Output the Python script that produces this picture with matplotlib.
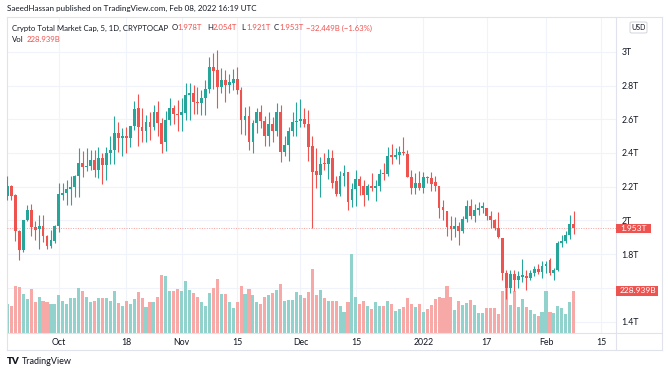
import numpy as np
import matplotlib
matplotlib.use("Agg")
import matplotlib.pyplot as plt
import matplotlib.dates as mdates
import matplotlib.transforms as mtransforms
from matplotlib.lines import Line2D
from matplotlib.patches import Rectangle, FancyBboxPatch

plt.rcParams['font.family'] = ['Lato', 'DejaVu Sans']

# daily candles, Crypto Total Market Cap (trillions USD), volume in billions
dates = np.arange(np.datetime64('2021-09-18'), np.datetime64('2022-02-09'))

opens = [2.147, 2.206, 2.153, 1.940, 1.828, 2.001, 2.064, 1.962, 1.950, 1.969,
         1.910, 1.847, 1.881, 1.969, 2.153, 2.163, 2.188, 2.196, 2.265, 2.340,
         2.316, 2.320, 2.360, 2.300, 2.369, 2.330, 2.399, 2.419, 2.517, 2.488,
         2.498, 2.488, 2.561, 2.665, 2.557, 2.533, 2.586, 2.553, 2.643, 2.576,
         2.468, 2.596, 2.665, 2.632, 2.628, 2.639, 2.744, 2.754, 2.702, 2.695,
         2.724, 2.777, 2.907, 2.892, 2.793, 2.833, 2.805, 2.817, 2.836, 2.773,
         2.596, 2.620, 2.468, 2.576, 2.643, 2.592, 2.498, 2.572, 2.533, 2.643,
         2.405, 2.446, 2.533, 2.586, 2.592, 2.600, 2.572, 2.442, 2.291, 2.271,
         2.336, 2.332, 2.371, 2.232, 2.159, 2.261, 2.285, 2.119, 2.186, 2.245,
         2.202, 2.151, 2.206, 2.190, 2.202, 2.281, 2.273, 2.387, 2.375, 2.387,
         2.403, 2.395, 2.257, 2.194, 2.222, 2.190, 2.257, 2.249, 2.226, 2.202,
         2.080, 2.054, 1.969, 1.950, 1.969, 1.936, 2.009, 2.088, 2.025, 2.060,
         2.072, 2.072, 2.025, 2.005, 1.956, 1.897, 1.690, 1.601, 1.680, 1.650,
         1.668, 1.670, 1.660, 1.690, 1.713, 1.696, 1.733, 1.765, 1.690, 1.709,
         1.867, 1.881, 1.916, 1.978]

highs = [2.261, 2.210, 2.155, 1.942, 2.003, 2.094, 2.100, 1.995, 2.034, 2.034,
         1.912, 1.946, 1.971, 2.222, 2.222, 2.241, 2.261, 2.271, 2.429, 2.409,
         2.429, 2.419, 2.419, 2.438, 2.399, 2.438, 2.498, 2.620, 2.586, 2.547,
         2.553, 2.561, 2.708, 2.750, 2.665, 2.626, 2.645, 2.685, 2.708, 2.606,
         2.651, 2.724, 2.685, 2.714, 2.724, 2.813, 2.813, 2.803, 2.793, 2.773,
         2.833, 2.970, 2.990, 3.010, 2.901, 2.892, 2.868, 2.896, 2.911, 2.793,
         2.675, 2.679, 2.596, 2.665, 2.685, 2.620, 2.645, 2.612, 2.699, 2.685,
         2.498, 2.553, 2.645, 2.704, 2.718, 2.665, 2.655, 2.501, 2.429, 2.379,
         2.399, 2.423, 2.419, 2.261, 2.291, 2.330, 2.287, 2.222, 2.300, 2.265,
         2.241, 2.218, 2.281, 2.241, 2.304, 2.340, 2.434, 2.454, 2.429, 2.442,
         2.494, 2.415, 2.300, 2.281, 2.291, 2.285, 2.261, 2.285, 2.261, 2.204,
         2.123, 2.056, 2.029, 2.021, 1.989, 2.029, 2.119, 2.127, 2.100, 2.111,
         2.107, 2.074, 2.054, 2.009, 2.048, 1.899, 1.709, 1.705, 1.709, 1.700,
         1.772, 1.709, 1.709, 1.729, 1.745, 1.759, 1.759, 1.778, 1.719, 1.877,
         1.916, 1.936, 2.034, 2.054]

lows = [2.123, 2.119, 1.881, 1.763, 1.812, 1.995, 1.906, 1.887, 1.832, 1.871,
        1.832, 1.837, 1.867, 1.930, 2.123, 2.094, 2.094, 2.139, 2.139, 2.257,
        2.291, 2.297, 2.255, 2.251, 2.218, 2.241, 2.336, 2.336, 2.403, 2.383,
        2.399, 2.434, 2.537, 2.442, 2.468, 2.468, 2.478, 2.537, 2.498, 2.399,
        2.409, 2.567, 2.572, 2.533, 2.533, 2.596, 2.596, 2.632, 2.632, 2.626,
        2.626, 2.754, 2.777, 2.665, 2.754, 2.704, 2.754, 2.773, 2.750, 2.511,
        2.507, 2.419, 2.399, 2.521, 2.547, 2.442, 2.442, 2.468, 2.501, 2.344,
        2.383, 2.350, 2.498, 2.498, 2.553, 2.553, 2.350, 1.956, 2.192, 2.139,
        2.297, 2.245, 2.192, 2.143, 2.143, 2.202, 2.060, 2.080, 2.084, 2.153,
        2.084, 2.123, 2.172, 2.113, 2.172, 2.241, 2.261, 2.336, 2.364, 2.336,
        2.389, 2.257, 2.159, 2.159, 2.182, 2.163, 2.222, 2.172, 2.172, 2.015,
        2.005, 1.906, 1.883, 1.902, 1.857, 1.926, 1.989, 2.009, 1.989, 2.034,
        2.044, 2.005, 1.956, 1.942, 1.897, 1.650, 1.536, 1.571, 1.581, 1.601,
        1.634, 1.591, 1.646, 1.670, 1.680, 1.660, 1.690, 1.674, 1.646, 1.700,
        1.843, 1.867, 1.891, 1.921]

closes = [2.206, 2.147, 1.936, 1.828, 2.001, 2.064, 1.962, 1.946, 1.969, 1.910,
          1.847, 1.887, 1.969, 2.159, 2.163, 2.188, 2.196, 2.265, 2.340, 2.316,
          2.324, 2.360, 2.300, 2.369, 2.330, 2.399, 2.419, 2.517, 2.488, 2.498,
          2.488, 2.561, 2.661, 2.557, 2.533, 2.586, 2.553, 2.643, 2.576, 2.454,
          2.596, 2.665, 2.632, 2.628, 2.645, 2.744, 2.754, 2.702, 2.695, 2.724,
          2.777, 2.907, 2.888, 2.793, 2.833, 2.803, 2.821, 2.836, 2.773, 2.596,
          2.620, 2.468, 2.576, 2.643, 2.592, 2.498, 2.572, 2.533, 2.643, 2.405,
          2.446, 2.533, 2.586, 2.592, 2.600, 2.572, 2.438, 2.285, 2.271, 2.336,
          2.332, 2.369, 2.222, 2.159, 2.261, 2.281, 2.107, 2.186, 2.245, 2.202,
          2.151, 2.202, 2.194, 2.202, 2.277, 2.273, 2.383, 2.375, 2.387, 2.403,
          2.399, 2.257, 2.194, 2.222, 2.190, 2.257, 2.249, 2.218, 2.202, 2.074,
          2.060, 1.962, 1.950, 1.969, 1.936, 2.009, 2.088, 2.025, 2.060, 2.072,
          2.084, 2.025, 2.005, 1.956, 1.902, 1.690, 1.601, 1.680, 1.650, 1.670,
          1.678, 1.660, 1.690, 1.713, 1.696, 1.733, 1.745, 1.690, 1.709, 1.867,
          1.881, 1.916, 1.978, 1.953]

volumes = [155, 143, 256, 251, 210, 183, 238, 168, 192, 174,
           165, 159, 159, 205, 174, 155, 187, 188, 243, 225,
           192, 165, 174, 187, 190, 190, 174, 227, 161, 143,
           172, 155, 183, 223, 187, 141, 168, 168, 196, 317,
           309, 227, 227, 238, 227, 284, 234, 218, 194, 168,
           143, 216, 243, 293, 210, 210, 165, 137, 165, 254,
           210, 238, 207, 168, 159, 196, 207, 216, 232, 265,
           174, 177, 179, 223, 205, 187, 223, 348, 207, 232,
           188, 174, 174, 174, 143, 113, 165, 430, 196, 155,
           174, 143, 128, 168, 143, 146, 174, 155, 119, 128,
           141, 187, 155, 141, 155, 113, 128, 150, 181, 192,
           187, 256, 192, 126, 174, 152, 161, 179, 152, 108,
           108, 134, 137, 132, 101, 225, 251, 152, 229, 141,
           183, 141, 123, 101, 90, 115, 229, 113, 110, 143,
           132, 101, 165, 228.939]

price_ticks = [1.4, 1.6, 1.8, 2.0, 2.2, 2.4, 2.6, 2.8, 3.0]
price_labels = ['1.4T', '1.6T', '1.8T', '2T', '2.2T', '2.4T', '2.6T', '2.8T', '3T']
time_ticks = ['2021-10-01', '2021-10-18', '2021-11-01', '2021-11-15', '2021-12-01',
              '2021-12-15', '2022-01-01', '2022-01-17', '2022-02-01', '2022-02-15']
time_labels = ['Oct', '18', 'Nov', '15', 'Dec', '15', '2022', '17', 'Feb', '15']

UP = '#26a69a'
DOWN = '#ef5350'
UP_VOL = '#92d2cc'
DOWN_VOL = '#f7a9a7'
GRID = '#f0f3fa'
FRAME = '#e0e3eb'
TEXT = '#131722'
HDR = 5.6

W, H = 668, 373
def fx(x):
    return x / W
def fy(y):
    return 1 - y / H

o = np.array(opens)
h = np.array(highs)
l = np.array(lows)
c = np.array(closes)
v = np.array(volumes)
x = mdates.date2num(dates)
up = c >= o

fig = plt.figure(figsize=(W / 100, H / 100), dpi=100)
ax = fig.add_axes([fx(7), fy(332.7), (615.7 - 7) / W, (332.7 - 17) / H])
axv = ax.twinx()
ax.set_zorder(2)
axv.set_zorder(1)
ax.patch.set_visible(False)

# volume pane (underneath), grid drawn here so it stays behind bars
xt = mdates.date2num(np.array(time_ticks, dtype='datetime64[D]'))
axv.vlines(xt, 0, 1, transform=axv.get_xaxis_transform(), color=GRID, lw=0.8, zorder=0)
axv.hlines(price_ticks, 0, 1, transform=ax.get_yaxis_transform(), color=GRID, lw=0.8, zorder=0)
axv.bar(x, v, width=0.78, color=np.where(up, UP_VOL, DOWN_VOL), lw=0, zorder=1)
axv.set_ylim(0, 1720)
axv.set_yticks([])
for s in axv.spines.values():
    s.set_visible(False)

# candles
cols = np.where(up, UP, DOWN)
ax.vlines(x, l, h, colors=cols, lw=0.8, zorder=3)
ax.bar(x, np.maximum(np.abs(c - o), 0.006), bottom=np.minimum(o, c), width=0.72,
       color=cols, lw=0, zorder=4)
ax.axhline(c[-1], color=DOWN, lw=0.7, ls=(0, (1, 1.5)), alpha=0.55, zorder=2)

ax.set_xlim(x[0] - 0.1, x[0] + 153.6)
ax.set_ylim(1.335, 3.206)
for s in ax.spines.values():
    s.set_visible(False)
ax.yaxis.tick_right()
ax.set_yticks(price_ticks)
ax.set_yticklabels(price_labels)
ax.set_xticks(xt)
ax.set_xticklabels(time_labels)
ax.tick_params(axis='y', length=0, pad=4, labelsize=6.3, labelcolor=TEXT)
ax.tick_params(axis='x', length=0, pad=3.5, labelsize=6.3, labelcolor=TEXT)
# the 1.6T label sits under the volume tag, as in TradingView
ax.get_yticklabels()[1].set_visible(False)

# last price and volume tags on the price scale
tr_p = mtransforms.blended_transform_factory(ax.transAxes, ax.transData)
tr_v = mtransforms.blended_transform_factory(ax.transAxes, axv.transData)
aw = 615.7 - 7
ax.add_patch(Rectangle((1.0, c[-1] - 0.028), 35 / aw, 0.056, transform=tr_p,
                       fc=DOWN, ec='none', clip_on=False, zorder=10))
ax.text(1.0 + 5 / aw, c[-1], '%.3fT' % c[-1], transform=tr_p, ha='left', va='center',
        color='white', fontsize=6.0, zorder=11, clip_on=False)
vh = 5 / 315.7 * 1720
ax.add_patch(Rectangle((1.0, v[-1] - vh), 42 / aw, 2 * vh, transform=tr_v,
                       fc=DOWN, ec='none', clip_on=False, zorder=10))
ax.text(1.0 + 4 / aw, v[-1], '%.3fB' % v[-1], transform=tr_v, ha='left', va='center',
        color='white', fontsize=6.0, zorder=11, clip_on=False)

# frame lines
for (x0, y0, x1, y1) in [(7, 17, 661.7, 17), (7, 350, 661.7, 350), (7, 17, 7, 350),
                         (661.7, 17, 661.7, 350), (615.7, 17, 615.7, 350),
                         (7, 332.7, 661.7, 332.7)]:
    fig.add_artist(Line2D([fx(x0), fx(x1)], [fy(y0), fy(y1)], color=FRAME, lw=0.8))

# USD badge
fig.add_artist(FancyBboxPatch((fx(630), fy(33)), 17 / W, 11 / H,
                              boxstyle='round,pad=0,rounding_size=0.003',
                              fc='white', ec='#d1d4dc', lw=0.7, transform=fig.transFigure))
fig.text(fx(638.5), fy(28), 'USD', ha='center', va='center', fontsize=5, color=TEXT)

# header texts
fig.text(fx(7), fy(8.3), 'SaeedHassan published on TradingView.com, Feb 08, 2022 16:19 UTC',
         ha='left', va='center', fontsize=5.8, color=TEXT)
fig.text(fx(12), fy(28), 'Crypto Total Market Cap, 5, 1D, CRYPTOCAP',
         ha='left', va='center', fontsize=HDR, color=TEXT)
ohlc = [('O', opens[-1], 172), ('H', highs[-1], 207), ('L', lows[-1], 241), ('C', closes[-1], 274)]
for key, val, px in ohlc:
    fig.text(fx(px), fy(28), key, ha='left', va='center', fontsize=HDR, color=TEXT)
    fig.text(fx(px + 5.5), fy(28), '%.3fT' % val, ha='left', va='center', fontsize=HDR, color=DOWN)
fig.text(fx(306), fy(28), '\u221232.449B (\u22121.63%)', ha='left', va='center',
         fontsize=HDR, color=DOWN)
fig.text(fx(12), fy(39), 'Vol', ha='left', va='center', fontsize=HDR, color=TEXT)
fig.text(fx(27), fy(39), '%.3fB' % v[-1], ha='left', va='center', fontsize=HDR, color=DOWN)

# footer logo
fig.text(fx(7), fy(362), 'TV', ha='left', va='center', fontsize=7, fontweight='heavy', color=TEXT)
fig.text(fx(22), fy(362), 'TradingView', ha='left', va='center', fontsize=6.5, color=TEXT)

fig.savefig('out.png', dpi=100)
